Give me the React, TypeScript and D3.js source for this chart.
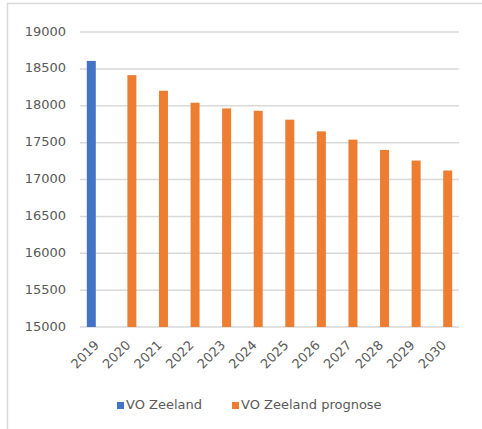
import React from "react";
import * as d3 from "d3";

const years = ["2019", "2020", "2021", "2022", "2023", "2024", "2025", "2026", "2027", "2028", "2029", "2030"];
const seriesNames = ["VO Zeeland", "VO Zeeland prognose"];
const actual: (number | null)[] = [18608, null, null, null, null, null, null, null, null, null, null, null];
const forecast: (number | null)[] = [null, 18415, 18203, 18041, 17964, 17932, 17811, 17653, 17541, 17401, 17257, 17122];
const yTicks = [15000, 15500, 16000, 16500, 17000, 17500, 18000, 18500, 19000];
const colors = ["#4472C4", "#ED7D31"];

const W = 482;
const H = 429;
const left = 80;
const right = 459;
const top = 32;
const bottom = 327;
const font = "'DejaVu Sans', Verdana, sans-serif";
const textColor = "#595959";
const gridColor = "#d9d9d9";

export default function App() {
  const x = d3.scaleBand<string>().domain(years).range([left, right]).paddingInner(0).paddingOuter(0);
  const barW = 9;
  const p = (x.bandwidth() / barW - 2) / 2;
  const x1 = d3.scaleBand<string>().domain(seriesNames).range([0, x.bandwidth()]).paddingInner(0).paddingOuter(p);
  const y = d3.scaleLinear().domain([15000, 19000]).range([bottom, top]);
  const data = [actual, forecast];

  return (
    <svg width={W} height={H} style={{ position: "absolute", left: 0, top: 0, background: "#fff" }}>
      <rect x={0} y={0} width={W} height={H} fill="#fff" />
      {/* border (top and left visible) */}
      <line x1={7} y1={3.5} x2={W} y2={3.5} stroke={gridColor} strokeWidth={1.5} />
      <line x1={7.5} y1={3} x2={7.5} y2={H} stroke={gridColor} strokeWidth={1.5} />
      {yTicks.map((t) => (
        <g key={t}>
          <line x1={left} x2={right} y1={y(t)} y2={y(t)} stroke={gridColor} strokeWidth={1.5} />
          <text x={66} y={y(t)} textAnchor="end" dominantBaseline="middle" fontFamily={font} fontSize={13} fill={textColor}>
            {t}
          </text>
        </g>
      ))}
      {data.map((series, si) =>
        series.map((v, i) =>
          v == null ? null : (
            <rect
              key={`${si}-${i}`}
              x={(x(years[i]) as number) + (x1(seriesNames[si]) as number)}
              y={y(v)}
              width={x1.bandwidth()}
              height={y(15000) - y(v)}
              fill={colors[si]}
            />
          )
        )
      )}
      {years.map((yr) => {
        const cx = (x(yr) as number) + x.bandwidth() / 2 + 4;
        const cy = 346;
        return (
          <text
            key={yr}
            x={cx}
            y={cy}
            transform={`rotate(-45 ${cx} ${cy})`}
            textAnchor="end"
            fontFamily={font}
            fontSize={13}
            fill={textColor}
          >
            {yr}
          </text>
        );
      })}
      {/* legend */}
      {seriesNames.map((name, i) => {
        const lx = i === 0 ? 117 : 232;
        return (
          <g key={name}>
            <rect x={lx} y={402} width={7} height={7} fill={colors[i]} />
            <text x={lx + 9} y={405.5} dominantBaseline="middle" fontFamily={font} fontSize={13} fill={textColor}>
              {name}
            </text>
          </g>
        );
      })}
    </svg>
  );
}
